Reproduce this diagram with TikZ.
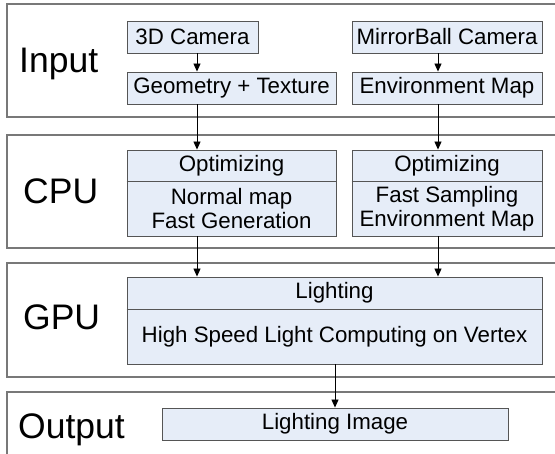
\documentclass[tikz,border=0pt]{standalone}
\usepackage{fontspec}
\setmainfont{Liberation Sans}
\usetikzlibrary{arrows.meta}
\definecolor{boxfill}{RGB}{230,237,248}
\definecolor{boxdraw}{RGB}{85,85,85}
\definecolor{paneldraw}{RGB}{120,120,120}
\begin{document}
\begin{tikzpicture}[x=1pt,y=-1pt,
  panel/.style={draw=paneldraw,line width=1.5pt},
  box/.style={draw=boxdraw,fill=boxfill,line width=0.9pt,inner sep=0pt,
    font=\fontsize{22.3}{23.5}\selectfont,align=center},
  txt/.style={font=\fontsize{22.3}{23.5}\selectfont,inner sep=0pt,align=center},
  lbl/.style={font=\fontsize{35.5}{40}\selectfont,inner sep=0pt,anchor=base west},
  divider/.style={draw=boxdraw,line width=0.9pt},
  arr/.style={line width=0.9pt,-{Triangle[length=8pt,width=7pt]}}]
\useasboundingbox (0,0) rectangle (555,454);
\clip (0,0) rectangle (555,454);
\fill[white] (0,0) rectangle (555,454);
% panels
\draw[panel] (7,4) rectangle (575,117);
\draw[panel] (7,135) rectangle (575,248);
\draw[panel] (7,263) rectangle (575,377);
\draw[panel] (7,392) rectangle (575,480);
% labels
\node[lbl] (linput) at (19,73) {Input};
\node[lbl] (lcpu) at (23,204) {CPU};
\node[lbl] (lgpu) at (23,330) {GPU};
\node[lbl] (lout) at (18,439) {Output};
% input boxes
\node[box,minimum width=131pt,minimum height=32pt] (cam) at (192.5,37) {3D Camera};
\node[box,minimum width=209pt,minimum height=32pt] (geo) at (231.5,88) {Geometry + Texture};
\node[box,minimum width=190pt,minimum height=32pt] (mir) at (447,37) {MirrorBall Camera};
\node[box,minimum width=190pt,minimum height=32pt] (env) at (447,88) {Environment Map};
% cpu boxes
\node[box,minimum width=209pt,minimum height=86pt] (opt1) at (231.5,193) {};
\node[box,minimum width=190pt,minimum height=86pt] (opt2) at (447,193) {};
\coordinate (d1) at (0,181);
\draw[divider] (opt1.west |- d1) -- (opt1.east |- d1);
\draw[divider] (opt2.west |- d1) -- (opt2.east |- d1);
\node[txt] (opt1t) at (231.5,165.5) {Optimizing};
\node[txt] (opt1b) at (231.5,208.5) {Normal map\\Fast Generation};
\node[txt] (opt2t) at (447,165.5) {Optimizing};
\node[txt] (opt2b) at (447,208.5) {Fast Sampling\\Environment Map};
% gpu box
\node[box,minimum width=415pt,minimum height=87pt] (light) at (334.5,320.5) {};
\coordinate (d2) at (0,309);
\draw[divider] (light.west |- d2) -- (light.east |- d2);
\node[txt] (lightt) at (334.5,293) {Lighting};
\node[txt] (lightb) at (334.5,337) {High Speed Light Computing on Vertex};
% output box
\node[box,minimum width=346pt,minimum height=32pt] (limg) at (335,424) {Lighting Image};
% connectors
\coordinate (cl) at (197,0);
\coordinate (cr) at (438,0);
\draw[arr] (cam.south -| cl) -- (geo.north -| cl);
\draw[arr] (mir.south -| cr) -- (env.north -| cr);
\draw[arr] (geo.south -| cl) -- (opt1.north -| cl);
\draw[arr] (env.south -| cr) -- (opt2.north -| cr);
\draw[arr] (opt1.south -| cl) -- (light.north -| cl);
\draw[arr] (opt2.south -| cr) -- (light.north -| cr);
\draw[arr] (light.south -| limg.north) -- (limg.north);
\end{tikzpicture}
\end{document}
